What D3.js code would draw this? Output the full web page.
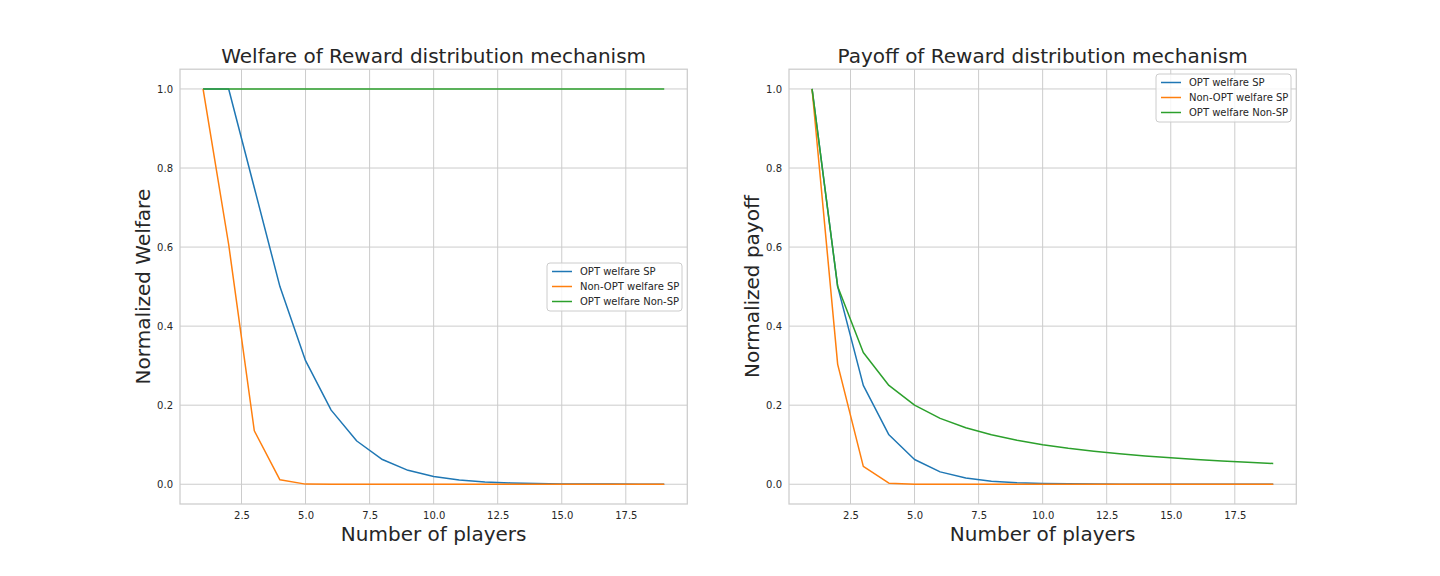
<!DOCTYPE html>
<html><head><meta charset="utf-8">
<script src="https://cdn.jsdelivr.net/npm/d3@7"></script>
<style>
body{margin:0;background:#fff;}
text{font-family:"DejaVu Sans",sans-serif;fill:#262626;}
</style></head>
<body><svg id="c" width="1440" height="576"></svg>
<script>
const players = [1,2,3,4,5,6,7,8,9,10,11,12,13,14,15,16,17,18,19];
const seriesNames = ["OPT welfare SP","Non-OPT welfare SP","OPT welfare Non-SP"];
const colors = ["#1f77b4","#ff7f0e","#2ca02c"];
const xTicks = [2.5,5.0,7.5,10.0,12.5,15.0,17.5];
const yTicks = [0.0,0.2,0.4,0.6,0.8,1.0];

// Left panel: welfare
const welfareOptSP = [1,1,0.75,0.5,0.3125,0.1875,0.1094,0.0625,0.0352,0.0195,0.0107,0.0059,0.0032,0.0017,0.0009,0.0005,0.0003,0.0001,0.0001];
const welfareNonOptSP = [1,0.6065,0.1353,0.0111,0.0003,0,0,0,0,0,0,0,0,0,0,0,0,0,0];
const welfareOptNonSP = [1,1,1,1,1,1,1,1,1,1,1,1,1,1,1,1,1,1,1];

// Right panel: payoff
const payoffOptSP = [1,0.5,0.25,0.125,0.0625,0.0313,0.0156,0.0078,0.0039,0.002,0.001,0.0005,0.0002,0.0001,0.0001,0,0,0,0];
const payoffNonOptSP = [1,0.3033,0.0451,0.0028,0.0001,0,0,0,0,0,0,0,0,0,0,0,0,0,0];
const payoffOptNonSP = [1,0.5,0.3333,0.25,0.2,0.1667,0.1429,0.125,0.1111,0.1,0.0909,0.0833,0.0769,0.0714,0.0667,0.0625,0.0588,0.0556,0.0526];

const panels = [
  {title:"Welfare of Reward distribution mechanism", ylabel:"Normalized Welfare", x0:180, series:[welfareOptSP,welfareNonOptSP,welfareOptNonSP], legend:{x:547,y:263}},
  {title:"Payoff of Reward distribution mechanism", ylabel:"Normalized payoff", x0:789, series:[payoffOptSP,payoffNonOptSP,payoffOptNonSP], legend:{x:1156,y:74}}
];

const svg = d3.select("#c");
const W = 507.3, plotTop = 69.2, plotBottom = 504;

panels.forEach(p => {
  const x = d3.scaleLinear().domain([0.1,19.9]).range([p.x0, p.x0+W]);
  const y = d3.scaleLinear().domain([-0.05,1.05]).range([plotBottom, plotTop]);
  const g = svg.append("g");
  g.selectAll(".gx").data(xTicks).enter().append("line")
    .attr("x1",d=>x(d)).attr("x2",d=>x(d)).attr("y1",plotTop).attr("y2",plotBottom)
    .attr("stroke","#cccccc").attr("stroke-width",1);
  g.selectAll(".gy").data(yTicks).enter().append("line")
    .attr("y1",d=>y(d)).attr("y2",d=>y(d)).attr("x1",p.x0).attr("x2",p.x0+W)
    .attr("stroke","#cccccc").attr("stroke-width",1);
  const xa = g.append("g").attr("transform",`translate(0,${plotBottom})`)
    .call(d3.axisBottom(x).tickValues(xTicks).tickFormat(d3.format(".1f")).tickSize(0).tickPadding(8));
  xa.select(".domain").remove();
  xa.selectAll("text").attr("font-size","10px").attr("fill","#262626").attr("font-family","DejaVu Sans");
  const ya = g.append("g").attr("transform",`translate(${p.x0},0)`)
    .call(d3.axisLeft(y).tickValues(yTicks).tickFormat(d3.format(".1f")).tickSize(0).tickPadding(7));
  ya.select(".domain").remove();
  ya.selectAll("text").attr("font-size","10px").attr("fill","#262626").attr("font-family","DejaVu Sans");
  g.append("rect").attr("x",p.x0).attr("y",plotTop).attr("width",W).attr("height",plotBottom-plotTop)
    .attr("fill","none").attr("stroke","#cccccc").attr("stroke-width",1.25);
  const line = d3.line().x((d,i)=>x(players[i])).y(d=>y(d));
  p.series.forEach((s,i)=>{
    g.append("path").datum(s).attr("d",line).attr("fill","none")
      .attr("stroke",colors[i]).attr("stroke-width",1.5).attr("stroke-linejoin","round");
  });
  g.append("text").attr("x",p.x0+W/2).attr("y",plotTop-6).attr("text-anchor","middle")
    .attr("font-size","20px").text(p.title);
  g.append("text").attr("x",p.x0+W/2).attr("y",541).attr("text-anchor","middle")
    .attr("font-size","20px").text("Number of players");
  g.append("text").attr("transform",`translate(${p.x0-30},${(plotTop+plotBottom)/2}) rotate(-90)`)
    .attr("text-anchor","middle").attr("font-size","20px").text(p.ylabel);
  const lg = g.append("g").attr("transform",`translate(${p.legend.x},${p.legend.y})`);
  lg.append("rect").attr("width",135).attr("height",48).attr("rx",3)
    .attr("fill","#ffffff").attr("fill-opacity",0.8).attr("stroke","#cccccc").attr("stroke-width",1);
  seriesNames.forEach((n,i)=>{
    const yy = 8.5 + i*15;
    lg.append("line").attr("x1",5).attr("x2",25).attr("y1",yy).attr("y2",yy)
      .attr("stroke",colors[i]).attr("stroke-width",1.5);
    lg.append("text").attr("x",33).attr("y",yy+3.6).attr("font-size","10px").text(n);
  });
});
</script></body></html>
